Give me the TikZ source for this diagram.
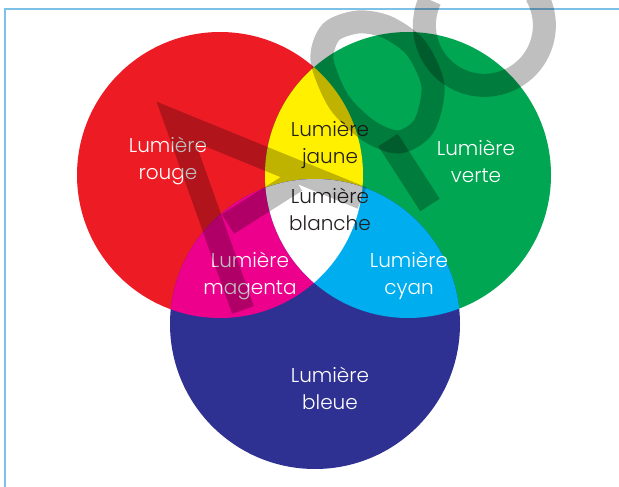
\documentclass[tikz,border=0pt]{standalone}
\usepackage{fontspec}
\setmainfont{Poppins}[UprightFont=* Light]
\definecolor{rouge}{RGB}{237,28,36}
\definecolor{vert}{RGB}{0,166,81}
\definecolor{bleu}{RGB}{46,49,146}
\definecolor{jaune}{RGB}{255,240,0}
\definecolor{pourpre}{RGB}{236,0,140}
\definecolor{turquoise}{RGB}{0,174,239}
\definecolor{cadre}{RGB}{125,192,232}
\definecolor{encre}{RGB}{35,31,32}
\def\cercleR{(220,175) circle[radius=143]}
\def\cercleV{(408,175) circle[radius=143]}
\def\cercleB{(315,324) circle[radius=145]}
\begin{document}
\begin{tikzpicture}[x=1pt,y=-1pt,lum/.style={align=center,text=white,font=\fontsize{20}{27}\selectfont}]
        \useasboundingbox (0,0) rectangle (619,487);
        \draw[cadre,line width=1.3pt](5,487)--(5,9)--(619,9);
        % les trois lumieres
        \fill[rouge]\cercleR;
        \fill[vert]\cercleV;
        \fill[bleu]\cercleB;
        \begin{scope}\clip\cercleR;\fill[jaune]\cercleV;\fill[pourpre]\cercleB;\end{scope}
        \begin{scope}\clip\cercleV;\fill[turquoise]\cercleB;\end{scope}
        \begin{scope}\clip\cercleR;\clip\cercleV;\fill[white]\cercleB;\end{scope}
        % textes
        \node[lum](rouge) at (168,161){Lumière\\rouge};
        \node[lum](verte) at (476,161){Lumière\\verte};
        \node[lum,text=encre](jaune) at (330,145){Lumière\\jaune};
        \node[lum,text=encre](blanche) at (330,209){Lumière\\blanche};
        \node[lum](magenta) at (250,276){Lumière\\magenta};
        \node[lum](cyan) at (409,276){Lumière\\cyan};
        \node[lum](bleue) at (330,388){Lumière\\bleue};
        % filigrane
        \begin{scope}[black,opacity=0.25,line width=23pt]
            \draw[line join=miter](243,310)--(176,122)--(362,198)(228,224)--(296,181);
            \draw plot[smooth cycle] coordinates{(322,60)(331,32)(358,22)(387,27)(416,48)(433,86)(424,126)(399,142)(369,131)(339,102)};
            \draw(388,140)--(430,205);
            \draw(430,0) arc[start angle=205,end angle=-30,radius=60];
        \end{scope}
    \end{tikzpicture}
\end{document}
